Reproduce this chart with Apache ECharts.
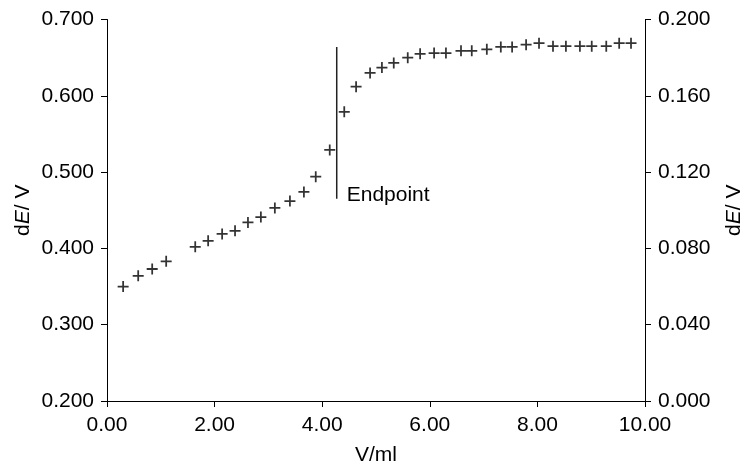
<!DOCTYPE html>
<html>
<head>
<meta charset="utf-8">
<script src="https://cdn.jsdelivr.net/npm/echarts@6/dist/echarts.min.js"></script>
<style>
  html, body { margin: 0; padding: 0; background: #fff; }
  #main { width: 747px; height: 466px; }
</style>
</head>
<body>
<div id="main"></div>
<script>
// 数据：滴定体积与 dE/V
var volume = [0.30, 0.58, 0.84, 1.10, 1.64, 1.88, 2.14, 2.38, 2.62, 2.86,
  3.12, 3.40, 3.66, 3.88, 4.14, 4.41, 4.63, 4.89, 5.11, 5.33,
  5.59, 5.82, 6.08, 6.30, 6.58, 6.78, 7.06, 7.32, 7.53, 7.79,
  8.03, 8.29, 8.53, 8.79, 9.01, 9.28, 9.52, 9.74];
var dEV = [0.350, 0.364, 0.373, 0.383, 0.402, 0.410, 0.419, 0.423, 0.434, 0.441,
  0.453, 0.462, 0.474, 0.494, 0.529, 0.579, 0.612, 0.630, 0.637, 0.643,
  0.650, 0.655, 0.656, 0.656, 0.659, 0.659, 0.661, 0.664, 0.664, 0.667,
  0.669, 0.665, 0.665, 0.665, 0.665, 0.665, 0.669, 0.669];
// 终点竖线
var endpointX = 4.27;
var endpointY = [0.465, 0.664];
var endpointText = 'Endpoint';

var chart = echarts.init(document.getElementById('main'));

var plus = 'path://M4.2,0h1.6v4.2h4.2v1.6h-4.2v4.2h-1.6v-4.2h-4.2v-1.6h4.2z';
var font = 'Liberation Sans';
var fs = 21;
var axisCommon = {
  axisLine: { show: true, lineStyle: { color: '#000', width: 1 } },
  axisTick: { show: true, length: 6, lineStyle: { color: '#000' } },
  splitLine: { show: false },
  axisLabel: { color: '#000', fontFamily: font, fontSize: fs }
};
var nameRich = {
  a: { fontFamily: font, fontSize: fs, color: '#000' },
  b: { fontFamily: font, fontSize: fs, color: '#000', fontStyle: 'italic' }
};

var option = {
  animation: false,
  grid: { left: 107, right: 102, top: 19.5, bottom: 65, containLabel: false, outerBoundsMode: 'none' },
  xAxis: Object.assign({}, axisCommon, {
    type: 'value',
    min: 0, max: 10, interval: 2,
    name: 'V/ml',
    nameLocation: 'middle',
    nameGap: 44,
    nameMoveOverlap: false,
    nameTextStyle: { fontFamily: font, fontSize: fs, color: '#000' },
    axisLabel: Object.assign({}, axisCommon.axisLabel, {
      margin: 14,
      formatter: function (v) { return v.toFixed(2); }
    })
  }),
  yAxis: [
    Object.assign({}, axisCommon, {
      type: 'value',
      position: 'left',
      min: 0.2, max: 0.7, interval: 0.1,
      name: '{a|d}{b|E}{a|/ V}',
      nameLocation: 'middle',
      nameRotate: 90,
      nameGap: 73,
      nameMoveOverlap: false,
      nameTextStyle: { rich: nameRich },
      axisLabel: Object.assign({}, axisCommon.axisLabel, {
        margin: 13,
        formatter: function (v) { return v.toFixed(3); }
      })
    }),
    Object.assign({}, axisCommon, {
      type: 'value',
      position: 'right',
      min: 0, max: 0.2, interval: 0.04,
      name: '{a|d}{b|E}{a|/ V}',
      nameLocation: 'middle',
      nameRotate: 90,
      nameGap: 79,
      nameMoveOverlap: false,
      nameTextStyle: { rich: nameRich },
      axisLabel: Object.assign({}, axisCommon.axisLabel, {
        margin: 13,
        formatter: function (v) { return v.toFixed(3); }
      })
    })
  ],
  series: [
    {
      type: 'scatter',
      data: volume.map(function (v, i) { return [v, dEV[i]]; }),
      symbol: plus,
      symbolSize: 11,
      itemStyle: { color: '#000' }
    },
    {
      type: 'line',
      data: [
        {
          value: [endpointX, endpointY[0]],
          label: {
            show: true, position: 'right', distance: 10, offset: [0, -4],
            formatter: endpointText,
            fontFamily: font, fontSize: fs, color: '#000'
          }
        },
        [endpointX, endpointY[1]]
      ],
      showSymbol: true,
      symbolSize: 0,
      lineStyle: { color: '#222', width: 1.5 },
      itemStyle: { color: '#222' }
    }
  ]
};

chart.setOption(option);
</script>
</body>
</html>
